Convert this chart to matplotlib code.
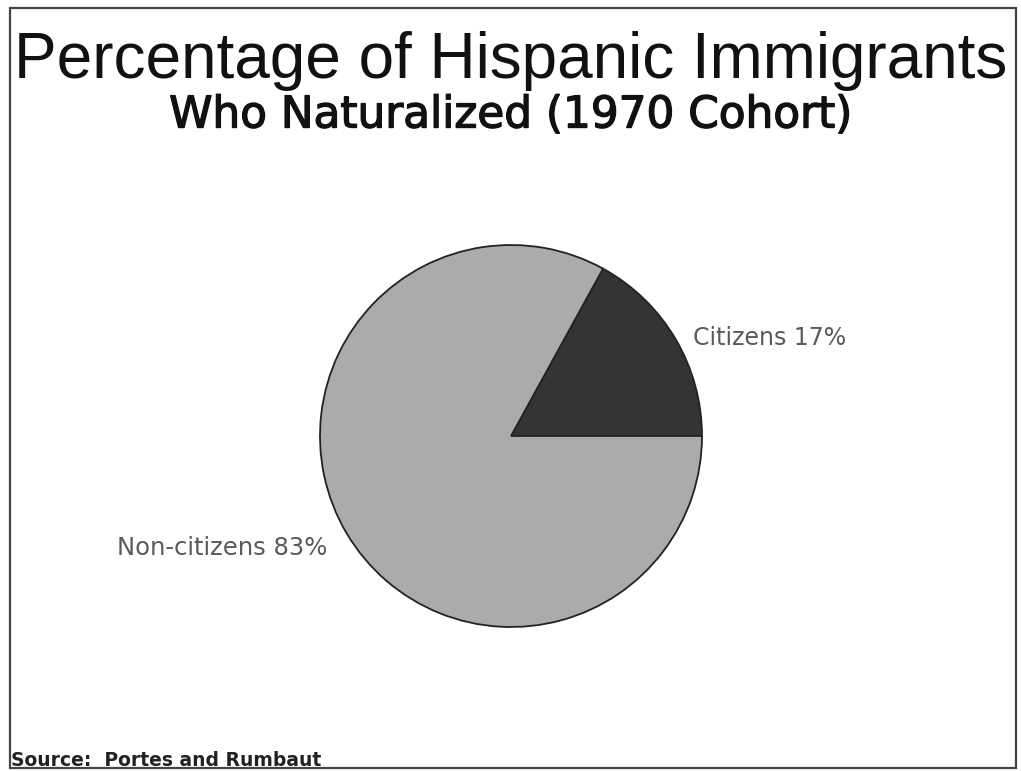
"""Pie chart: share of Hispanic immigrants (1970 cohort) who naturalized."""
import matplotlib
matplotlib.use("Agg")
import matplotlib.pyplot as plt
import matplotlib.patheffects as pe
from matplotlib.patches import Rectangle

labels = ["Citizens", "Non-citizens"]
shares = [17, 83]
colors = ["#343434", "#ababab"]

plt.rcParams["font.family"] = ["Liberation Sans", "DejaVu Sans"]

W, H = 1021, 771
fig = plt.figure(figsize=(W / 100, H / 100), dpi=100)
fig.patch.set_facecolor("white")

# frame around the whole figure
fig.patches.append(Rectangle((10 / W, 3 / H), 1006 / W, 760 / H,
                             transform=fig.transFigure, fill=False,
                             edgecolor="#444444", lw=1.6))

fig.text(0.5, 1 - 61 / H, "Percentage of Hispanic Immigrants",
         ha="center", va="center", fontsize=46, color="#111111")
fig.text(0.5, 1 - 115 / H, "Who Naturalized (1970 Cohort)",
         ha="center", va="center", fontsize=31.5, family="DejaVu Sans",
         color="#111111",
         path_effects=[pe.withStroke(linewidth=1.0, foreground="#111111")])
fig.text(11 / W, 1 - 761 / H, "Source:  Portes and Rumbaut",
         ha="left", va="center", fontsize=13.5, fontweight="bold",
         family="DejaVu Sans", color="#222222")

# pie centred at pixel (511, 436), radius 191 px
cx, cy, r = 511, 436, 191
ax = fig.add_axes([(cx - r) / W, (H - cy - r) / H, 2 * r / W, 2 * r / H])
wedges, _ = ax.pie(shares, colors=colors, startangle=0, counterclock=True,
                   wedgeprops=dict(edgecolor="#222222", linewidth=1.3))
ax.set_xlim(-1, 1)
ax.set_ylim(-1, 1)
ax.set_aspect("equal")
ax.axis("off")

fig.text(693 / W, 1 - 338 / H, f"{labels[0]} {shares[0]}%",
         ha="left", va="center", fontsize=17, family="DejaVu Sans",
         color="#5a5a5a")
fig.text(222 / W, 1 - 548 / H, f"{labels[1]} {shares[1]}%",
         ha="center", va="center", fontsize=17.5, family="DejaVu Sans",
         color="#5a5a5a")

fig.savefig("out.png", dpi=100)
